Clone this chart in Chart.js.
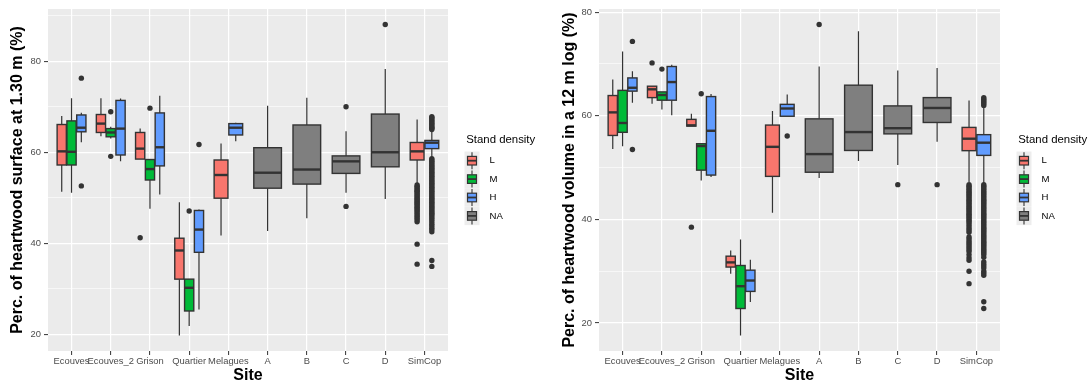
<!DOCTYPE html>
<html>
<head>
<meta charset="utf-8">
<script src="https://cdn.jsdelivr.net/npm/chart.js@4.4.0/dist/chart.umd.min.js"></script>
<style>
  body { margin: 0; background: #fff; }
  #wrap { position: relative; width: 1091px; height: 385px; }
  canvas { position: absolute; top: 0; }
</style>
</head>
<body>
<div id="wrap">
  <canvas id="surfaceChart" width="545" height="385" style="left:0"></canvas>
  <canvas id="volumeChart" width="546" height="385" style="left:545px"></canvas>
</div>
<script>
const sites = ['Ecouves', 'Ecouves_2', 'Grison', 'Quartier', 'Melagues', 'A', 'B', 'C', 'D', 'SimCop'];
const densities = ['L', 'M', 'H', 'NA'];
const densityColors = ['#F8766D', '#00BA38', '#619CFF', '#7F7F7F'];

// [site, density, lower whisker, q1, median, q3, upper whisker]
const surfaceBoxes = [
  ['Ecouves', 'L', 51.3, 57.2, 60.2, 66.1, 68.0],
  ['Ecouves', 'M', 51.1, 57.2, 60.1, 66.9, 71.9],
  ['Ecouves', 'H', 62.2, 64.5, 65.4, 68.2, 68.7],
  ['Ecouves_2', 'L', 63.5, 64.35, 66.3, 68.3, 71.9],
  ['Ecouves_2', 'M', 63.0, 63.4, 64.35, 65.2, 65.6],
  ['Ecouves_2', 'H', 58.0, 59.4, 65.2, 71.4, 71.8],
  ['Grison', 'L', 58.5, 58.5, 60.8, 64.35, 65.2],
  ['Grison', 'M', 47.6, 53.9, 56.3, 58.4, 58.5],
  ['Grison', 'H', 50.7, 57.0, 61.1, 68.65, 72.4],
  ['Quartier', 'L', 19.7, 32.1, 38.4, 41.1, 49.0],
  ['Quartier', 'M', 21.8, 25.1, 30.2, 32.1, 32.1],
  ['Quartier', 'H', 25.4, 38.0, 43.0, 47.2, 47.4],
  ['Melagues', 'L', 41.7, 49.9, 55.0, 58.3, 61.9],
  ['Melagues', 'H', 62.4, 63.8, 65.4, 66.3, 66.5],
  ['A', 'NA', 42.7, 52.1, 55.5, 61.0, 70.2],
  ['B', 'NA', 45.5, 53.0, 56.2, 66.0, 72.0],
  ['C', 'NA', 51.1, 55.35, 58.0, 59.2, 64.6],
  ['D', 'NA', 49.7, 56.8, 60.0, 68.4, 78.3],
  ['SimCop', 'L', 53.2, 58.3, 60.2, 62.15, 67.2],
  ['SimCop', 'H', 58.9, 60.8, 62.1, 62.6, 64.85]
];

// [site, density, outlying values]
const surfaceOutliers = [
  ['Ecouves', 'H', [76.3, 52.6]],
  ['Ecouves_2', 'M', [68.9, 59.1]],
  ['Grison', 'L', [41.2]],
  ['Grison', 'M', [69.7]],
  ['Quartier', 'M', [47.1]],
  ['Quartier', 'H', [61.7]],
  ['C', 'NA', [70.0, 48.1]],
  ['D', 'NA', [88.1]],
  ['SimCop', 'L', [52.8, 52.5, 52.2, 51.9, 51.6, 51.4, 51.1, 50.8, 50.5, 50.2, 49.9, 49.6, 49.3, 49.1,
    48.8, 48.5, 48.2, 47.9, 47.6, 47.3, 47.0, 46.6, 46.2, 45.9, 45.5, 45.1, 44.7, 39.8, 35.4]],
  ['SimCop', 'H', [65.0, 65.3, 65.5, 65.8, 66.1, 66.4, 66.7, 67.0, 67.3, 67.6, 67.8,
    58.6, 58.3, 58.0, 57.7, 57.4, 57.1, 56.8, 56.5, 56.2, 55.9, 55.6, 55.3, 55.0, 54.7, 54.4, 54.1,
    53.8, 53.5, 53.2, 52.9, 52.6, 52.3, 52.0, 51.7, 51.4, 51.1, 50.8, 50.5, 50.2, 49.9, 49.6, 49.3,
    49.0, 48.7, 48.4, 48.1, 47.8, 47.5, 47.2, 46.9, 46.6, 46.3, 46.0, 45.6, 45.2, 44.8, 44.3, 43.9,
    43.4, 43.0, 42.5, 36.2, 34.9]]
];

const volumeBoxes = [
  ['Ecouves', 'L', 53.6, 56.2, 60.65, 63.9, 67.0],
  ['Ecouves', 'M', 54.1, 56.8, 58.6, 64.9, 72.4],
  ['Ecouves', 'H', 62.5, 64.75, 65.4, 67.3, 68.6],
  ['Ecouves_2', 'L', 62.3, 63.5, 65.1, 65.7, 65.7],
  ['Ecouves_2', 'M', 61.2, 63.0, 64.0, 64.6, 64.6],
  ['Ecouves_2', 'H', 60.1, 63.0, 66.5, 69.5, 69.85],
  ['Grison', 'L', 58.0, 58.0, 58.15, 59.3, 60.4],
  ['Grison', 'M', 47.5, 49.5, 54.15, 54.6, 54.6],
  ['Grison', 'H', 48.2, 48.55, 57.1, 63.7, 64.2],
  ['Quartier', 'L', 29.5, 30.8, 31.7, 32.9, 34.0],
  ['Quartier', 'M', 17.6, 22.8, 27.1, 31.1, 36.1],
  ['Quartier', 'H', 24.05, 26.1, 28.2, 30.2, 32.2],
  ['Melagues', 'L', 41.3, 48.3, 54.0, 58.2, 60.9],
  ['Melagues', 'H', 59.9, 59.9, 61.4, 62.2, 64.1],
  ['A', 'NA', 48.0, 49.1, 52.6, 59.4, 69.5],
  ['B', 'NA', 51.25, 53.3, 56.85, 65.9, 76.3],
  ['C', 'NA', 50.5, 56.5, 57.6, 61.9, 68.75],
  ['D', 'NA', 55.0, 58.7, 61.5, 63.5, 69.2],
  ['SimCop', 'L', 47.2, 53.26, 55.57, 57.75, 62.96],
  ['SimCop', 'H', 47.0, 52.35, 54.8, 56.35, 61.7]
];

const volumeOutliers = [
  ['Ecouves', 'H', [74.35, 53.5]],
  ['Ecouves_2', 'L', [70.2]],
  ['Ecouves_2', 'M', [69.0]],
  ['Grison', 'L', [38.5]],
  ['Grison', 'M', [64.25]],
  ['Melagues', 'H', [56.1]],
  ['A', 'NA', [77.6]],
  ['C', 'NA', [46.7]],
  ['D', 'NA', [46.7]],
  ['SimCop', 'L', [46.7, 46.4, 46.1, 45.8, 45.5, 45.2, 44.9, 44.6, 44.3, 44.0, 43.7, 43.4, 43.1, 42.8,
    42.5, 42.2, 41.9, 41.6, 41.3, 41.0, 40.7, 40.4, 40.1, 39.8, 39.5, 39.1, 38.7, 38.3, 37.9, 37.5,
    36.6, 36.2, 35.8, 35.4, 35.0, 34.6, 34.2, 33.8, 33.2, 32.6, 32.1, 30.0, 27.6]],
  ['SimCop', 'H', [62.0, 62.3, 62.6, 62.9, 63.2, 63.5,
    46.7, 46.4, 46.1, 45.8, 45.5, 45.2, 44.9, 44.6, 44.3, 44.0, 43.7, 43.4, 43.1, 42.8, 42.5, 42.2,
    41.9, 41.6, 41.3, 41.0, 40.7, 40.4, 40.1, 39.8, 39.5, 39.2, 38.9, 38.6, 38.3, 38.0, 37.7, 37.4,
    37.1, 36.8, 36.5, 36.2, 35.9, 35.6, 35.3, 35.0, 34.7, 34.4, 34.1, 33.8, 33.5, 33.2, 32.7,
    31.8, 31.4, 31.0, 30.6, 30.0, 29.6, 29.2, 24.1, 22.8]]
];

const surfaceBreaks = [20, 30, 40, 50, 60, 70, 80, 90];
const surfaceLabels = [20, 40, 60, 80];
const volumeBreaks = [20, 30, 40, 50, 60, 70, 80];
const volumeLabels = [20, 40, 60, 80];

Chart.defaults.font.family = '"Liberation Sans", Arial, sans-serif';

// position of a box inside its site, dodged like ggplot (total width 0.75)
function dodge(boxes, site, density) {
  const group = boxes.filter(b => b[0] === site).map(b => b[1]);
  const w = 0.75 / group.length;
  const k = group.indexOf(density);
  return { x: sites.indexOf(site) - 0.375 + w * (k + 0.5), w: w };
}

function boxPlugin(boxes) {
  return {
    id: 'boxes',
    beforeDraw(chart) {
      const { ctx, chartArea: a } = chart;
      ctx.save();
      ctx.fillStyle = '#EBEBEB';
      ctx.fillRect(a.left, a.top, a.right - a.left, a.bottom - a.top);
      ctx.restore();
    },
    beforeDatasetsDraw(chart) {
      const { ctx, scales: { x, y } } = chart;
      ctx.save();
      boxes.forEach(b => {
        const [site, dens, lo, q1, med, q3, hi] = b;
        const p = dodge(boxes, site, dens);
        const cx = x.getPixelForValue(p.x);
        const half = x.getPixelForValue(p.x + p.w * 0.47) - cx;
        ctx.strokeStyle = '#333333';
        ctx.lineWidth = 1.2;
        ctx.beginPath();
        ctx.moveTo(cx, y.getPixelForValue(hi));
        ctx.lineTo(cx, y.getPixelForValue(q3));
        ctx.moveTo(cx, y.getPixelForValue(q1));
        ctx.lineTo(cx, y.getPixelForValue(lo));
        ctx.stroke();
        const top = y.getPixelForValue(q3), bot = y.getPixelForValue(q1);
        ctx.fillStyle = densityColors[densities.indexOf(dens)];
        ctx.fillRect(cx - half, top, half * 2, bot - top);
        ctx.lineWidth = 1.4;
        ctx.strokeRect(cx - half, top, half * 2, bot - top);
        ctx.lineWidth = 2.4;
        ctx.beginPath();
        ctx.moveTo(cx - half, y.getPixelForValue(med));
        ctx.lineTo(cx + half, y.getPixelForValue(med));
        ctx.stroke();
      });
      ctx.restore();
    },
    afterDraw(chart) {
      // legend: Stand density
      const { ctx, chartArea: a } = chart;
      const lx = a.right;
      ctx.save();
      ctx.textAlign = 'left';
      ctx.textBaseline = 'middle';
      ctx.fillStyle = '#000';
      ctx.font = '11.4px "Liberation Sans", Arial, sans-serif';
      ctx.fillText('Stand density', lx + 18.2, 139.5);
      densities.forEach((d, i) => {
        const cy = 160.7 + i * 18.4;
        const kx = lx + 24;
        ctx.fillStyle = '#EDEDED';
        ctx.fillRect(lx + 16.5, cy - 9.2, 15, 18.4);
        ctx.strokeStyle = '#333333';
        ctx.lineWidth = 1.1;
        ctx.beginPath();
        ctx.moveTo(kx, cy - 8.5); ctx.lineTo(kx, cy - 4.3);
        ctx.moveTo(kx, cy + 4.3); ctx.lineTo(kx, cy + 8.5);
        ctx.stroke();
        ctx.fillStyle = densityColors[i];
        ctx.fillRect(kx - 4.5, cy - 4.3, 9, 8.6);
        ctx.lineWidth = 1.2;
        ctx.strokeRect(kx - 4.5, cy - 4.3, 9, 8.6);
        ctx.lineWidth = 1.8;
        ctx.beginPath();
        ctx.moveTo(kx - 4.5, cy); ctx.lineTo(kx + 4.5, cy);
        ctx.stroke();
        ctx.fillStyle = '#000';
        ctx.font = '9.6px "Liberation Sans", Arial, sans-serif';
        ctx.fillText(d, lx + 41.5, cy);
      });
      ctx.restore();
    }
  };
}

function outlierPoints(boxes, outliers) {
  const pts = [];
  outliers.forEach(([site, dens, vals]) => {
    const p = dodge(boxes, site, dens);
    vals.forEach(v => pts.push({ x: p.x, y: v }));
  });
  return pts;
}

function makeChart(id, boxes, outliers, yMin, yMax, breaks, labels, title, axisWidth, titlePad, padRight) {
  const isMajor = ctx => ctx.tick && labels.includes(ctx.tick.value);
  new Chart(document.getElementById(id), {
    type: 'scatter',
    data: {
      datasets: [{
        data: outlierPoints(boxes, outliers),
        backgroundColor: '#333333',
        borderWidth: 0,
        pointRadius: 2.7,
        pointHoverRadius: 2.7
      }]
    },
    options: {
      responsive: false,
      animation: false,
      devicePixelRatio: 1,
      events: [],
      layout: { padding: { top: 9, right: padRight, bottom: 0, left: 0 } },
      plugins: { legend: { display: false }, tooltip: { enabled: false } },
      scales: {
        x: {
          type: 'linear',
          min: -0.6,
          max: sites.length - 0.4,
          afterBuildTicks: s => { s.ticks = sites.map((_, i) => ({ value: i })); },
          afterFit: s => { s.height = 34; },
          ticks: { callback: v => sites[v], autoSkip: false, maxRotation: 0, color: '#4D4D4D', font: { size: 9.4 }, padding: 1 },
          grid: { color: '#FFFFFF', lineWidth: 1.2, tickColor: '#333333', tickWidth: 1, tickLength: 4 },
          border: { display: false },
          title: { display: true, text: 'Site', color: '#000', font: { size: 16, weight: 'bold' }, padding: { top: 0, bottom: 0 } }
        },
        y: {
          type: 'linear',
          min: yMin,
          max: yMax,
          afterBuildTicks: s => { s.ticks = breaks.map(v => ({ value: v })); },
          afterFit: s => { s.width = axisWidth; },
          ticks: { callback: v => labels.includes(v) ? v : '', autoSkip: false, color: '#4D4D4D', font: { size: 9.4 }, padding: 3 },
          grid: {
            color: '#FFFFFF',
            lineWidth: ctx => isMajor(ctx) ? 1.2 : 0.6,
            tickColor: ctx => isMajor(ctx) ? '#333333' : 'rgba(0,0,0,0)',
            tickWidth: 1,
            tickLength: 4
          },
          border: { display: false },
          title: { display: true, text: title, color: '#000', font: { size: 16, weight: 'bold' }, padding: { top: titlePad, bottom: 0 } }
        }
      }
    },
    plugins: [boxPlugin(boxes)]
  });
}

makeChart('surfaceChart', surfaceBoxes, surfaceOutliers, 16.3, 91.5, surfaceBreaks, surfaceLabels,
  'Perc. of heartwood surface at 1.30 m (%)', 48, 8.1, 97);
makeChart('volumeChart', volumeBoxes, volumeOutliers, 14.6, 80.6, volumeBreaks, volumeLabels,
  'Perc. of heartwood volume in a 12 m log (%)', 54, 15.4, 91);
</script>
</body>
</html>
